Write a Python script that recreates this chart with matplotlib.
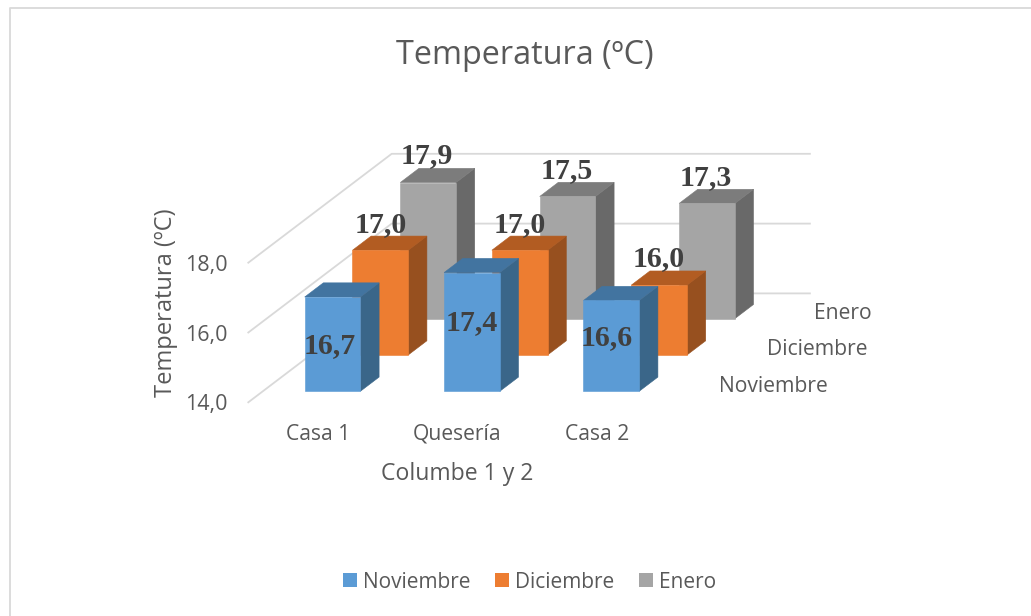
import matplotlib
matplotlib.use('Agg')
import matplotlib.pyplot as plt
from matplotlib.patches import Patch, Polygon

plt.rcParams['font.family'] = ['Open Sans', 'DejaVu Sans']

# Monthly mean temperature per site
categories = ['Casa 1', 'Quesería', 'Casa 2']
series_names = ['Noviembre', 'Diciembre', 'Enero']
noviembre = [16.7, 17.4, 16.6]
diciembre = [17.0, 17.0, 16.0]
enero = [17.9, 17.5, 17.3]
series_values = [noviembre, diciembre, enero]
axis_ticks = [14.0, 16.0, 18.0]

# Face, side and top colours for each series
face_colors = ['#5B9BD5', '#ED7D31', '#A5A5A5']
side_colors = ['#3A6689', '#97501F', '#696969']
top_colors = ['#4274A0', '#B25C22', '#7C7C7C']
text_color = '#595959'
grid_color = '#D9D9D9'

# Oblique projection of (category, depth, value) into pixel space
X0, Y0 = 248.3, 402.3
CAT_STEP = 139.4
DEPTH_DX, DEPTH_DY = 47.8, -36.3
VALUE_STEP = 34.9
BASE = axis_ticks[0]


def project(x, depth, value):
    px = X0 + CAT_STEP * x + DEPTH_DX * depth
    py = Y0 + DEPTH_DY * depth - VALUE_STEP * (value - BASE)
    return px, py


def draw_bar(ax, cat, ser, value):
    x1, x2 = cat + 0.3, cat + 0.7
    d1, d2 = ser + 0.305, ser + 0.695
    front = [project(x1, d1, BASE), project(x2, d1, BASE),
             project(x2, d1, value), project(x1, d1, value)]
    side = [project(x2, d1, BASE), project(x2, d2, BASE),
            project(x2, d2, value), project(x2, d1, value)]
    top = [project(x1, d1, value), project(x2, d1, value),
           project(x2, d2, value), project(x1, d2, value)]
    for pts, col in [(side, side_colors[ser]), (top, top_colors[ser]), (front, face_colors[ser])]:
        ax.add_patch(Polygon(pts, closed=True, facecolor=col, edgecolor=col, linewidth=0.4, zorder=3 + (2 - ser)))


fig = plt.figure(figsize=(10.31, 6.16), dpi=100)
ax = fig.add_axes([0, 0, 1, 1])
ax.set_xlim(0, 1031)
ax.set_ylim(616, 0)
ax.axis('off')

# Chart frame, top and left edges only
ax.plot([9.5, 9.5, 1031], [616, 7.5, 7.5], color=grid_color, lw=1.3, zorder=1)

# Gridlines across the floor side and back wall
for tick in axis_ticks:
    xs, ys = zip(project(0, 0, tick), project(0, 3, tick), project(3, 3, tick))
    ax.plot(xs, ys, color=grid_color, lw=1.3, zorder=2)
    tx, ty = project(0, 0, tick)
    ax.text(tx - 41.8, ty + 2.5, f'{tick:.1f}'.replace('.', ','), color=text_color,
            fontsize=15.5, ha='center', va='center')

# Back rows first so nearer bars cover them
for ser in [2, 1, 0]:
    for cat, value in enumerate(series_values[ser]):
        draw_bar(ax, cat, ser, value)

# Value labels, the Noviembre ones sit inside the bars
label_nudges = [[(-3, 49), (0, 50), (-5, 37)],
                [(0, -26), (0, -26), (0, -27)],
                [(-1, -27), (-1, -26), (-1, -26)]]
for ser in range(3):
    for cat, value in enumerate(series_values[ser]):
        px, py = project(cat + 0.5, ser + 0.305, value)
        dx, dy = label_nudges[ser][cat]
        ax.text(px + dx, py + dy, f'{value:.1f}'.replace('.', ','), family='Liberation Serif',
                fontweight='bold', fontsize=21.5, color='#404040', ha='center', va='center', zorder=8)

# Category and series axis labels
for cat, name in enumerate(categories):
    px, py = project(cat + 0.5, 0, BASE)
    ax.text(px, py + 32, name, color=text_color, fontsize=15.2, ha='center', va='center')
for ser, name in enumerate(series_names):
    px, py = project(3, ser + 0.5, BASE)
    ax.text(px + 28.5, py + 2, name, color=text_color, fontsize=15.2, ha='left', va='center')

# Titles
ax.text(524.5, 55, 'Temperatura (ºC)', color=text_color, fontsize=23.3, ha='center', va='center')
ax.text(457.5, 474, 'Columbe 1 y 2', color=text_color, fontsize=16.6, ha='center', va='center')
ax.text(165.5, 303, 'Temperatura (ºC)', color=text_color, fontsize=17, rotation=90, ha='center', va='center')

handles = [Patch(facecolor=c, label=n) for c, n in zip(face_colors, series_names)]
ax.legend(handles=handles, loc='center', bbox_to_anchor=(529.5, 582), bbox_transform=ax.transData,
          ncol=3, frameon=False, labelcolor=text_color, fontsize=15, handlelength=0.67, handleheight=0.67,
          handletextpad=0.29, columnspacing=1.2)

plt.savefig('out.png', dpi=100)
